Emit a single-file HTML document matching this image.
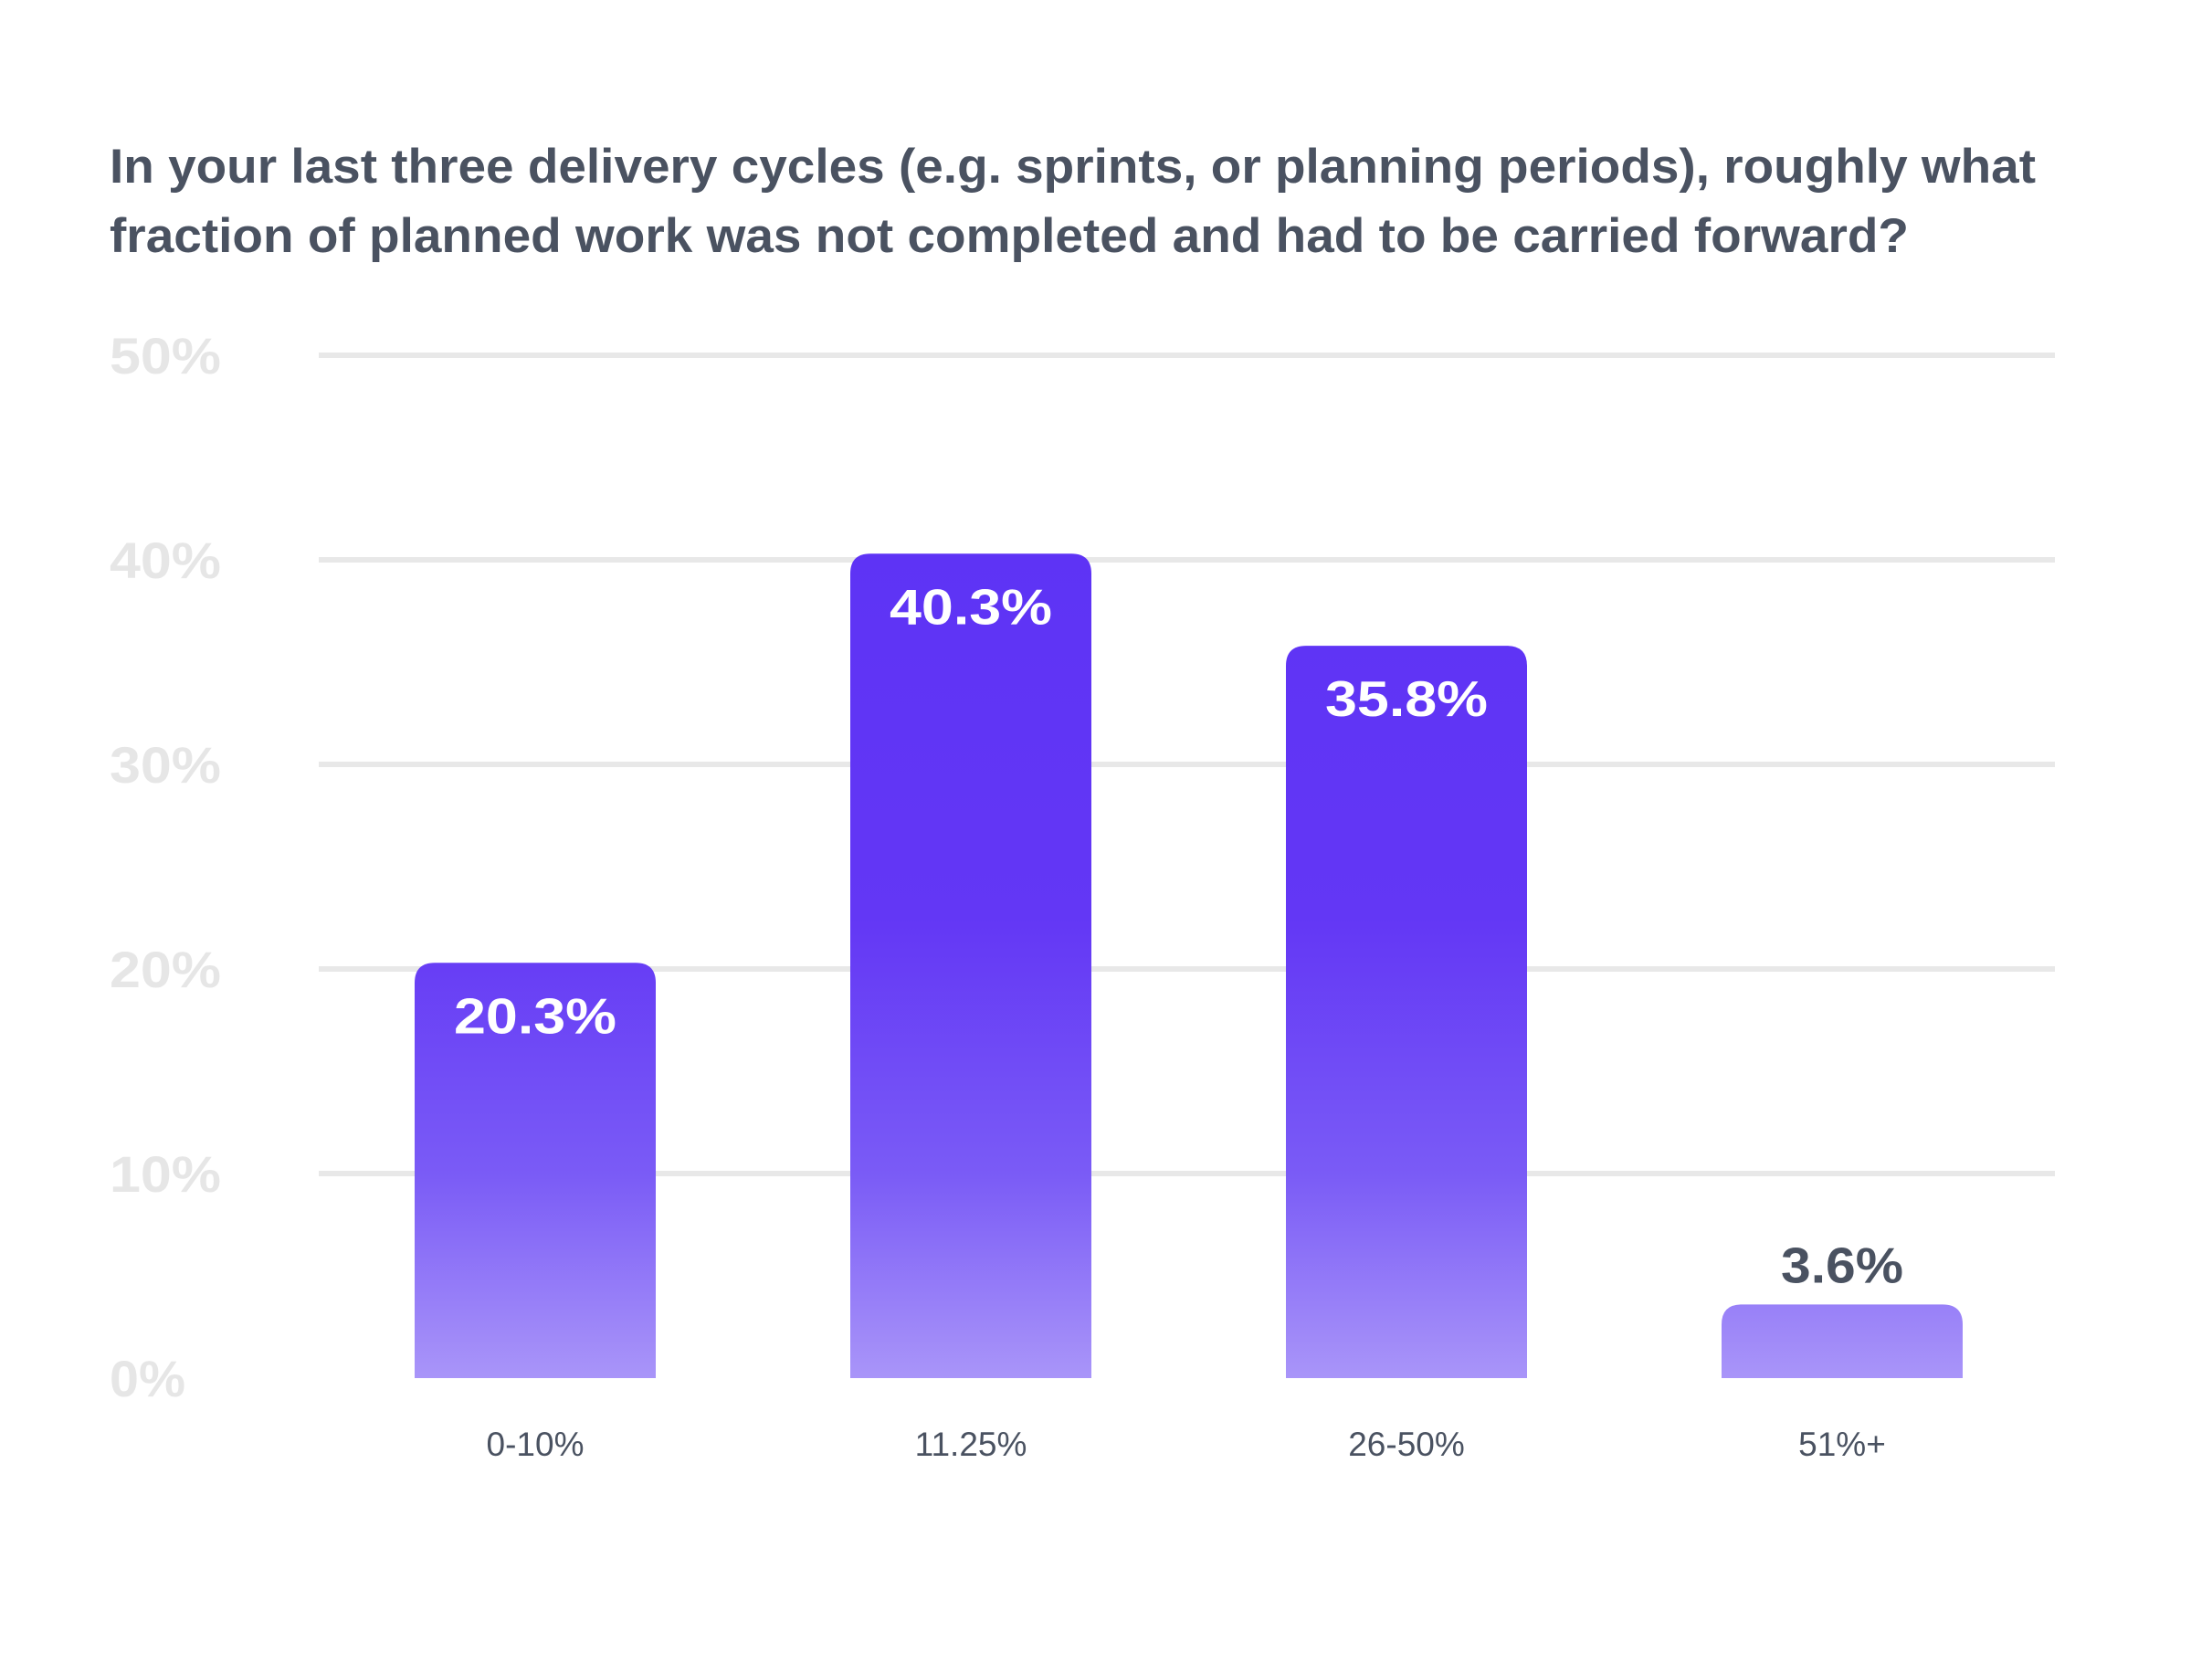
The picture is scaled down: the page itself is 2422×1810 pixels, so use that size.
<!DOCTYPE html>
<html><head><meta charset="utf-8"><style>
html,body{margin:0;padding:0;background:#fff;}
svg{display:block;font-family:"Liberation Sans",sans-serif;}
</style></head><body>
<svg id="chart" width="2422" height="1810" viewBox="0 0 2422 1810" xmlns="http://www.w3.org/2000/svg">
<defs>
<linearGradient id="bg" x1="0" y1="389" x2="0" y2="1509" gradientUnits="userSpaceOnUse">
<stop offset="0" stop-color="#5b31f5"/><stop offset="0.55" stop-color="#6337f5"/><stop offset="0.8" stop-color="#7a5bf6"/><stop offset="1" stop-color="#a995f9"/>
</linearGradient>
</defs>
<g fill="#4a5261" font-weight="bold" font-size="53">
<text x="120" y="200" textLength="2109" lengthAdjust="spacingAndGlyphs">In your last three delivery cycles (e.g. sprints, or planning periods), roughly what</text>
<text x="120" y="276" textLength="1970" lengthAdjust="spacingAndGlyphs">fraction of planned work was not completed and had to be carried forward?</text>
</g>
<g id="grid"></g><g id="ylabels"></g><g id="bars"></g><g id="xlabels"></g>
</svg>
<script>
const categories=["0-10%","11.25%","26-50%","51%+"];
const values=[20.3,40.3,35.8,3.6];
const valueLabels=["20.3%","40.3%","35.8%","3.6%"];
const yTicks=[0,10,20,30,40,50];
const NS="http://www.w3.org/2000/svg";
const y0=1509,y50=389,gx0=349,gx1=2250;
function y(v){return y0-(y0-y50)*v/50;}
function x(i){return 454+i*477;}
const bw=264;
function mk(t,a,p){const e=document.createElementNS(NS,t);for(const k in a)e.setAttribute(k,a[k]);p.appendChild(e);return e;}
const grid=document.getElementById('grid'),yl=document.getElementById('ylabels'),bars=document.getElementById('bars'),xl=document.getElementById('xlabels');
yTicks.forEach(t=>{
 if(t>0){const l=mk('line',{x1:gx0,x2:gx1,y1:y(t),y2:y(t),stroke:'#e8e8e8','stroke-width':6},grid);
 
 }
 const tx=mk('text',{x:120,y:y(t)+20,fill:'#e6e6e6','font-size':56,'font-weight':'bold',textLength:t>0?122:83,lengthAdjust:'spacingAndGlyphs'},yl);
 tx.textContent=t+'%';
 
 
});
values.forEach((v,i)=>{
 const top=y(v),r=22,bx=x(i),h=y0-top;
 const rr=Math.min(r,h);
 const p=mk('path',{d:`M${bx},${y0} L${bx},${top+rr} Q${bx},${top} ${bx+rr},${top} L${bx+bw-rr},${top} Q${bx+bw},${top} ${bx+bw},${top+rr} L${bx+bw},${y0} Z`,fill:'url(#bg)'},bars);
 
 
 const inside=h>120;
 const t=mk('text',{x:bx+bw/2,y:inside?top+77:top-24,'text-anchor':'middle','font-size':55,'font-weight':'bold',fill:inside?'#fff':'#4a5261',textLength:inside?178:134,lengthAdjust:'spacingAndGlyphs'},bars);
 t.textContent=valueLabels[i];
 
 
 const c=mk('text',{x:bx+bw/2,y:1594,'text-anchor':'middle','font-size':37,fill:'#4a5261'},xl);
 c.textContent=categories[i];
 
 
});
</script>
</body></html>
